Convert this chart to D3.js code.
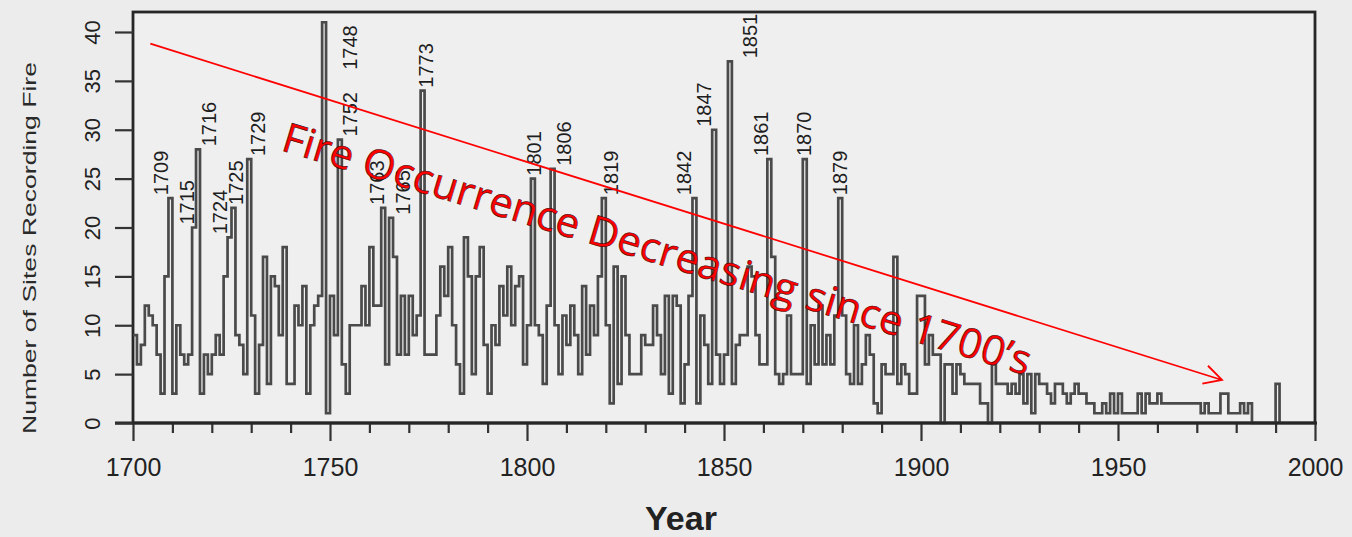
<!DOCTYPE html>
<html>
<head>
<meta charset="utf-8">
<script src="https://cdn.jsdelivr.net/npm/d3@7"></script>
<style>
  html, body { margin: 0; padding: 0; background: #ececec; }
  svg { display: block; font-family: "Liberation Sans", Arial, sans-serif; }
</style>
</head>
<body>
<div id="chart"></div>
<script>
// number of sites recording fire, one value per year from 1700
const startYear = 1700;
const fires1700s = [
  9, 6, 8, 12, 11, 10, 7, 3, 15, 23,
  3, 10, 7, 6, 7, 20, 28, 3, 7, 5,
  7, 9, 7, 15, 19, 22, 9, 8, 5, 27,
  11, 3, 8, 17, 4, 15, 14, 9, 18, 4,
  4, 12, 10, 14, 3, 10, 12, 13, 41, 1,
  13, 9, 29, 6, 3, 10, 10, 10, 14, 10,
  18, 12, 12, 22, 6, 21, 17, 7, 13, 7,
  13, 9, 11, 34, 7, 7, 7, 11, 16, 13,
  18, 10, 6, 3, 19, 15, 5, 15, 18, 8,
  3, 10, 8, 14, 11, 16, 10, 14, 15, 6
];
const fires1800s = [
  10, 25, 10, 9, 4, 12, 26, 10, 5, 11,
  8, 12, 9, 5, 14, 7, 12, 9, 15, 23,
  10, 2, 16, 4, 15, 9, 5, 5, 5, 9,
  8, 8, 12, 9, 5, 13, 3, 13, 12, 2,
  6, 13, 23, 2, 11, 8, 4, 30, 7, 4,
  7, 37, 4, 8, 9, 9, 16, 15, 9, 6,
  6, 27, 17, 5, 4, 5, 11, 5, 5, 5,
  27, 4, 10, 6, 12, 6, 9, 6, 11, 23,
  11, 5, 4, 10, 4, 6, 9, 7, 2, 1,
  6, 5, 5, 17, 4, 6, 5, 3, 3, 13
];
const fires1900s = [
  13, 6, 9, 7, 7, 0, 6, 6, 3, 6,
  5, 4, 4, 4, 4, 2, 2, 0, 6, 4,
  4, 4, 3, 4, 3, 5, 2, 5, 1, 5,
  4, 4, 3, 2, 4, 4, 3, 2, 3, 4,
  3, 3, 2, 2, 1, 1, 2, 1, 3, 1,
  3, 1, 1, 1, 1, 3, 1, 3, 2, 2,
  3, 2, 2, 2, 2, 2, 2, 2, 2, 2,
  2, 1, 2, 1, 1, 1, 3, 3, 1, 1,
  1, 2, 1, 2, 0, 0, 0, 0, 0, 0,
  4
];

// labelled fire years
const peakYears = [1709, 1715, 1716, 1724, 1725, 1729, 1752, 1763, 1765, 1773,
  1801, 1806, 1819, 1842, 1847, 1851, 1861, 1870, 1879];
const peakLabels = ["1709", "1715", "1716", "1724", "1725", "1729", "1752    1748", "1763", "1765", "1773",
  "1801", "1806", "1819", "1842", "1847", "1851", "1861", "1870", "1879"];
// sideways shift of each label, in years
const labelNudge = [-2.4, -1.7, 2.9, -2.4, 0.6, 2.1, 2.5, -1.5, 3.0, 0.8,
  0.3, 3.0, 1.8, -2.7, -2.7, 5.0, -2.0, -0.2, 0];

const xTicks = [1700, 1750, 1800, 1850, 1900, 1950, 2000];
const yTicks = [0, 5, 10, 15, 20, 25, 30, 35, 40];

const trendText = "Fire Occurrence Decreasing since 1700\u2019s";
const trendFrom = [1704.4, 38.8];
const trendTo = [1976.4, 4.4];

const allFires = fires1700s.concat(fires1800s, fires1900s);
const series = allFires.map((v, i) => ({ year: startYear + i, value: v }));
const lastYear = series[series.length - 1].year;
series.push({ year: lastYear + 1, value: 0 });

const width = 1352, height = 537;
const svg = d3.select("#chart").append("svg")
  .attr("width", width)
  .attr("height", height);

svg.append("rect").attr("width", width).attr("height", height).attr("fill", "#ececec");

const x = d3.scaleLinear().domain([1700, 2000]).range([133, 1315]);
const y = d3.scaleLinear().domain([0, 40]).range([423, 32]);

// plot frame
svg.append("rect")
  .attr("x", x(1700))
  .attr("y", 12)
  .attr("width", x(2000) - x(1700))
  .attr("height", y(0) - 12)
  .attr("fill", "#efefef")
  .attr("stroke", "#262626")
  .attr("stroke-width", 2.8);

// step line
const line = d3.line()
  .x(d => x(d.year))
  .y(d => y(d.value))
  .curve(d3.curveStepAfter);

svg.append("path")
  .datum(series)
  .attr("d", line)
  .attr("fill", "none")
  .attr("stroke", "#4a4a4a")
  .attr("stroke-width", 2.7);

// x axis: minor ticks every 10 years, long ticks every 50
const xAxis = svg.append("g")
  .attr("transform", `translate(0,${y(0)})`)
  .call(d3.axisBottom(x)
    .tickValues(d3.range(1700, 2001, 10))
    .tickSize(10)
    .tickFormat(d => xTicks.includes(d) ? d : ""));
xAxis.select(".domain").remove();
xAxis.append("line")
  .attr("x1", 115).attr("x2", x(2000) + 2)
  .attr("stroke", "#262626").attr("stroke-width", 3);
xAxis.selectAll(".tick line")
  .attr("stroke", "#333")
  .attr("stroke-width", 2.2)
  .attr("y2", d => xTicks.includes(d) ? 18 : 10);
xAxis.selectAll(".tick text")
  .attr("y", 35)
  .attr("font-size", 25)
  .attr("fill", "#222")
  .attr("font-family", "'Liberation Sans', Arial, sans-serif");

// y axis with rotated labels
const yAxis = svg.append("g")
  .attr("transform", `translate(${x(1700)},0)`)
  .call(d3.axisLeft(y).tickValues(yTicks).tickSize(18));
yAxis.select(".domain").remove();
yAxis.selectAll(".tick line").attr("stroke", "#333").attr("stroke-width", 2.2);
yAxis.selectAll(".tick text")
  .attr("x", 0)
  .attr("y", -41)
  .attr("dy", null)
  .attr("transform", "rotate(-90)")
  .attr("text-anchor", "middle")
  .attr("dominant-baseline", "central")
  .attr("font-size", 22)
  .attr("fill", "#222")
  .attr("font-family", "'Liberation Sans', Arial, sans-serif");

// peak labels
const valueOf = yr => allFires[yr - startYear];
svg.append("g").selectAll("text")
  .data(peakYears)
  .join("text")
  .attr("transform", (d, i) => `translate(${x(d + 0.5 + labelNudge[i])},${y(valueOf(d)) - 3}) rotate(-90)`)
  .attr("dominant-baseline", "central")
  .attr("font-size", 20)
  .attr("fill", "#1e1e1e")
  .style("white-space", "pre")
  .text((d, i) => peakLabels[i]);

// axis titles
svg.append("text")
  .attr("transform", `translate(29,248) rotate(-90)`)
  .attr("text-anchor", "middle")
  .attr("dominant-baseline", "central")
  .attr("font-size", 19)
  .attr("fill", "#2a2a2a")
  .attr("textLength", 372)
  .attr("lengthAdjust", "spacingAndGlyphs")
  .text("Number of Sites Recording Fire");

svg.append("text")
  .attr("x", 681)
  .attr("y", 530)
  .attr("text-anchor", "middle")
  .attr("font-size", 34)
  .attr("font-weight", "bold")
  .attr("fill", "#222")
  .text("Year");

// red trend arrow
const ax0 = x(trendFrom[0]), ay0 = y(trendFrom[1]);
const ax1 = x(trendTo[0]), ay1 = y(trendTo[1]);
const ang = Math.atan2(ay1 - ay0, ax1 - ax0);
const head = 20, spread = 28 * Math.PI / 180;
const arrow = d3.path();
arrow.moveTo(ax0, ay0);
arrow.lineTo(ax1, ay1);
arrow.moveTo(ax1 - head * Math.cos(ang - spread), ay1 - head * Math.sin(ang - spread));
arrow.lineTo(ax1, ay1);
arrow.lineTo(ax1 - head * Math.cos(ang + spread), ay1 - head * Math.sin(ang + spread));
svg.append("path")
  .attr("d", arrow.toString())
  .attr("fill", "none")
  .attr("stroke", "#f00")
  .attr("stroke-width", 1.8);

svg.append("text")
  .attr("transform", `translate(${x(1832)},${y(16.4)}) rotate(16.8)`)
  .attr("text-anchor", "middle")
  .attr("font-family", "'Open Sans', 'Noto Sans', sans-serif")
  .attr("font-size", 41)
  .attr("fill", "#f00")
  .attr("stroke", "#2a0000")
  .attr("stroke-width", 0.5)
  .attr("textLength", 780)
  .attr("lengthAdjust", "spacingAndGlyphs")
  .text(trendText);
</script>
</body>
</html>
